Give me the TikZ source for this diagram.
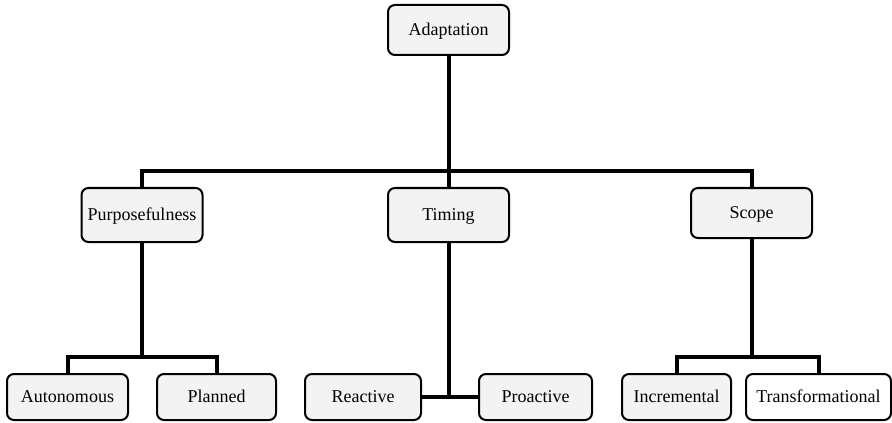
\documentclass[tikz,border=0pt]{standalone}
\usepackage{fontspec}
\setmainfont{Liberation Serif}
\definecolor{boxgray}{HTML}{F3F3F3}
\begin{document}
\begin{tikzpicture}[x=0.5pt,y=-0.5pt,
  box/.style={draw=black,line width=1pt,rounded corners=3.5pt,fill=boxgray,
    minimum width=60.5pt,minimum height=25pt,inner sep=0pt,
    text height=1.6ex,text depth=.4ex,
    font=\fontsize{9}{11}\selectfont},
  leaf/.style={box,minimum height=23pt},
  conn/.style={line width=2pt}]

\useasboundingbox (0,0) rectangle (892,422);

%root and the three aspects
\node[box] (adapt) at (448.5,30) {Adaptation};
\node[box,minimum height=27pt] (purp) at (142,215) {Purposefulness};
\node[box,minimum height=27pt] (timing) at (448.5,215) {Timing};
\node[box] (scope) at (751.5,213) {Scope};

%leaves
\node[leaf] (auto) at (67.5,397) {Autonomous};
\node[leaf,minimum width=59.5pt] (plan) at (216.5,397) {Planned};
\node[leaf,minimum width=58pt] (react) at (363,397) {Reactive};
\node[leaf,minimum width=56.5pt] (proact) at (535.5,397) {Proactive};
\node[leaf,minimum width=54.5pt] (incr) at (676.5,397) {Incremental};
\node[leaf,minimum width=72.5pt,fill=white] (trans) at (818.5,397) {Transformational};

%connectors, top level
\coordinate (hub) at (448.5,171);
\draw[conn] (adapt.south) -- (timing.north);
\draw[conn] (purp.north) |- (hub) -| (scope.north);

%connectors, second level
\coordinate (pjoin) at (142,357);
\draw[conn] (purp.south) -- (pjoin);
\draw[conn] (auto.north) |- (pjoin) -| (plan.north);

\draw[conn] (timing.south) -- (timing.south |- react.east);
\draw[conn] (react.east) -- (proact.west);

\coordinate (sjoin) at (751.5,357);
\draw[conn] (scope.south) -- (sjoin);
\draw[conn] (incr.north) |- (sjoin) -| (trans.north);

\end{tikzpicture}
\end{document}
